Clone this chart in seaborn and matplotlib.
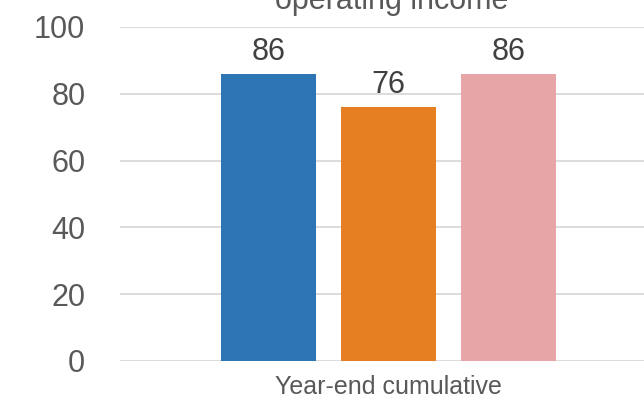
import matplotlib
matplotlib.use("Agg")
import matplotlib.pyplot as plt
import seaborn as sns
import pandas as pd

# Chart data
category = ["Year-end cumulative"]
series = ["Series A", "Series B", "Series C"]
values = [86, 76, 86]
colors = ["#2E75B6", "#E67E22", "#E8A5A7"]
yticks = [0, 20, 40, 60, 80, 100]

df = pd.DataFrame({
    "period": category * len(series),
    "series": series,
    "value": values,
})

sns.set_theme(style="white")
plt.rcParams["font.family"] = ["Liberation Sans", "DejaVu Sans"]

fig = plt.figure(figsize=(6.44, 4.03), dpi=100)
ax = fig.add_axes([120 / 644, 42 / 403, 537 / 644, 334 / 403])

sns.barplot(data=df, x="period", y="value", hue="series", palette=colors,
            width=0.8, gap=0.208, saturation=1, legend=False, ax=ax,
            errorbar=None, linewidth=0)

ax.set_ylim(0, 100)
ax.set_xlim(-0.597, 0.597)
ax.set_yticks(yticks)
ax.yaxis.grid(True, color="#D9D9D9", linewidth=1.3)
ax.set_axisbelow(True)
for s in ax.spines.values():
    s.set_visible(False)

ax.tick_params(axis="y", length=0, pad=25, labelsize=22, labelcolor="#595959")
ax.tick_params(axis="x", length=0, pad=10, labelsize=18, labelcolor="#595959")
ax.set_xlabel("")
ax.set_ylabel("")

for cont in ax.containers:
    ax.bar_label(cont, fmt="%d", padding=5, fontsize=22, color="#404040")

# Chart title sits at the very top edge of the canvas
fig.text(392 / 644, 394 / 403, "operating income", ha="center", va="baseline",
         fontsize=22, color="#595959")

fig.savefig("out.png", dpi=100)
